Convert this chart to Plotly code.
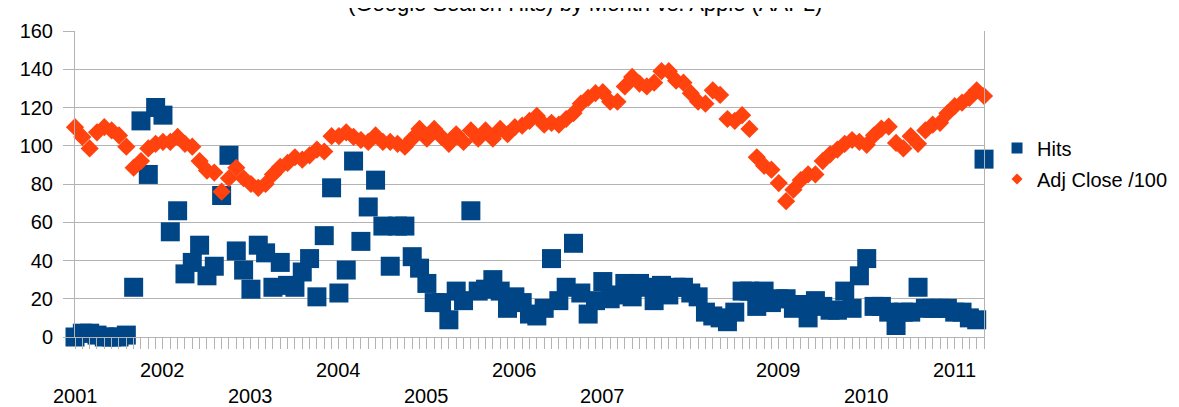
import plotly.graph_objects as go

# ---- data (monthly, Jan 2001 .. May 2011) ----
months = [f"{2001 + k // 12}-{k % 12 + 1:02d}" for k in range(125)]

hits = [0, 2, 2, 1, 0, 0, 0, 1, 26, 113, 85, 120, 116, 55, 66, 33, 39, 48, 32, 37,
        74, 95, 45, 35, 25, 48, 44, 26, 39, 27, 26, 34, 41, 21, 53, 78, 23, 35, 92, 50,
        68, 82, 58, 37, 58, 58, 42, 36, 28, 18, 18, 9, 24, 19, 66, 24, 25, 30, 24, 15,
        21, 18, 12, 11, 15, 41, 19, 26, 49, 23, 12, 19, 29, 20, 22, 28, 21, 28, 26, 19,
        27, 22, 26, 26, 23, 21, 13, 11, 10, 8, 13, 24, 24, 16, 24, 18, 20, 20, 15, 17,
        10, 19, 16, 14, 14, 24, 15, 32, 41, 16, 16, 13, 6, 13, 13, 26, 15, 15, 15, 15,
        13, 13, 10, 9, 93]

adj_close_100 = [109.7, 104.6, 98.6, 107, 109.7, 108, 105.4, 99.5, 88.5, 92,
                 98.6, 101, 102, 102, 104.6, 101, 99.5, 92, 87, 86,
                 76, 83, 88.5, 83, 80, 78, 80, 85, 89, 91,
                 94, 92.7, 95, 98, 97, 105, 105, 107, 104.6, 103,
                 102, 105.4, 102, 102, 101, 99.5, 103.7, 108.8, 103.7, 108.8,
                 104.6, 101, 106, 102, 108, 103.7, 108, 103.7, 108.8, 106,
                 109.7, 110.5, 113, 115.6, 111, 112, 111, 114, 117, 122,
                 125, 127.5, 128, 123, 123, 131, 136, 132.5, 131, 133,
                 139, 139, 134, 133, 127.5, 123, 122, 129, 126.6, 114,
                 113, 116, 108.8, 94, 89.5, 87.5, 80.5, 71, 77, 82,
                 85, 85, 92, 95.5, 98, 101, 103, 102, 100.5, 105.5,
                 109, 110, 101.5, 98.6, 105, 101, 108, 111, 112, 117,
                 120.7, 122.5, 125, 129, 126]

year_labels = ["2001", "2002", "2003", "2004", "2005", "2006", "2007",
               "2009", "2010", "2011"]
year_label_months = [f"{y}-01" for y in year_labels]

y_ticks = [0, 20, 40, 60, 80, 100, 120, 140, 160]

title_text = "(Google Search Hits) by Month vs. Apple (AAPL)"

BLUE = "#004586"
ORANGE = "#ff420e"
GRID = "#b3b3b3"
FONT = "Liberation Sans, Arial, sans-serif"

fig = go.Figure()
fig.add_trace(go.Scatter(
    x=months, y=hits, mode="markers", name="Hits", showlegend=False,
    marker=dict(symbol="square", size=19, color=BLUE, line=dict(width=0)),
    cliponaxis=False))
fig.add_trace(go.Scatter(
    x=months, y=adj_close_100, mode="markers", name="Adj Close /100", showlegend=False,
    marker=dict(symbol="diamond", size=14, color=ORANGE, line=dict(width=0)),
    cliponaxis=False))
# legend entries (smaller symbols, as in the reference legend)
fig.add_trace(go.Scatter(
    x=[None], y=[None], mode="markers", name="Hits", legendgroup="a",
    marker=dict(symbol="square", size=11, color=BLUE, line=dict(width=0))))
fig.add_trace(go.Scatter(
    x=[None], y=[None], mode="markers", name="Adj Close /100", legendgroup="b",
    marker=dict(symbol="diamond", size=8.5, color=ORANGE, line=dict(width=0))))

annotations = []
for k, (lab, m) in enumerate(zip(year_labels, year_label_months)):
    annotations.append(dict(
        x=m, xref="x", y=(-0.107 if k % 2 else -0.192), yref="paper",
        text=lab, showarrow=False, xanchor="center", yanchor="middle",
        font=dict(family=FONT, size=20, color="#000000")))
# chart title, mostly cut off at the top edge as in the reference
annotations.append(dict(
    x=0.5, xref="paper", y=1.089, yref="paper", text=title_text,
    showarrow=False, xanchor="center", yanchor="middle", xshift=55,
    font=dict(family=FONT, size=22, color="#000000")))

fig.update_layout(
    width=1171, height=399, autosize=False,
    margin=dict(l=59, r=194, t=14, b=70, pad=0),
    paper_bgcolor="white", plot_bgcolor="white",
    font=dict(family=FONT, size=20, color="#000000"),
    legend=dict(xref="container", yref="container",
                x=0.8446, xanchor="left", y=0.6103, yanchor="middle",
                traceorder="grouped", tracegroupgap=2,
                font=dict(family=FONT, size=20, color="#000000"),
                bgcolor="rgba(0,0,0,0)", itemwidth=30),
    annotations=annotations,
    xaxis=dict(type="category", categoryorder="array", categoryarray=months,
               range=[0, len(months) - 1], showgrid=False, zeroline=False,
               showline=True, linecolor=GRID, linewidth=1, mirror=False,
               ticks="outside", ticklen=11, tickcolor=GRID, tickwidth=1,
               tickmode="array", tickvals=months, showticklabels=False),
    yaxis=dict(range=[0, 160], tickvals=y_ticks, showgrid=True, gridcolor=GRID,
               gridwidth=1, zeroline=False, showline=True, linecolor=GRID,
               linewidth=1, mirror=True, ticks="outside", ticklen=11,
               tickcolor=GRID, tickwidth=1, ticklabelstandoff=6,
               tickfont=dict(family=FONT, size=20, color="#000000")),
)

fig.write_html("out.html")
